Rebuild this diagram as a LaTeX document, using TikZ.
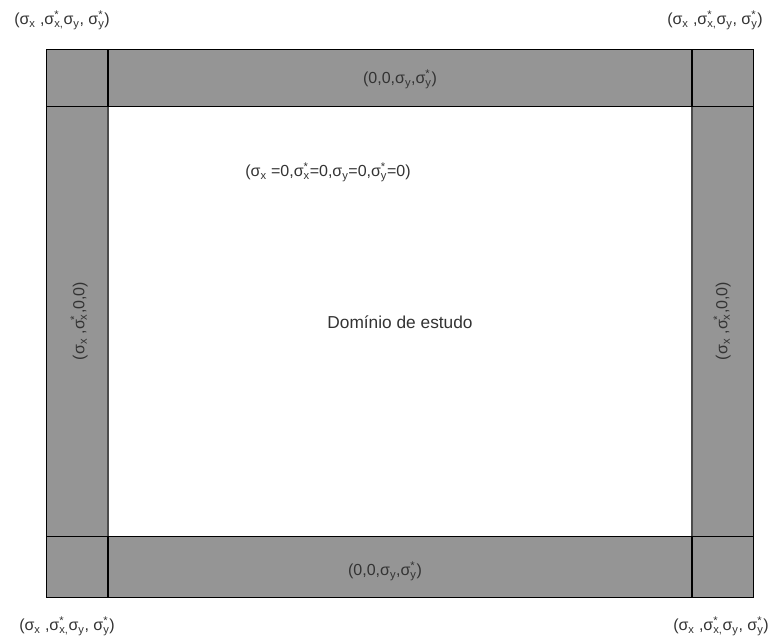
\documentclass[tikz,border=0pt]{standalone}
\usepackage{fontspec}
\setmainfont{Liberation Sans}
\newcommand\sbx[1]{\textsubscript{#1}}
\newcommand\sbsp[2]{\rlap{\textsuperscript{#2}}\textsubscript{#1}}
\definecolor{bandgray}{HTML}{959595}
\definecolor{txtgray}{HTML}{333333}
\begin{document}
\begin{tikzpicture}[x=1pt,y=-1pt,
  band/.style={fill=bandgray,draw=black,line width=1.6pt},
  inner/.style={draw=black!70,line width=1.2pt},
  lbl/.style={text=txtgray,font=\fontsize{16}{18}\selectfont,inner sep=0pt},
  big/.style={text=txtgray,font=\fontsize{17.3}{19}\selectfont,inner sep=0pt}]
\useasboundingbox (0,0) rectangle (771,639);
% bands
\fill[bandgray] (46.5,49.5) rectangle (753.5,106.5);
\fill[bandgray] (46.5,536.5) rectangle (753.5,597.5);
\fill[bandgray] (46.5,106.5) rectangle (108,536.5);
\fill[bandgray] (692,106.5) rectangle (753.5,536.5);
% inner edges
\draw[inner] (108,106.5) -- (108,536.5);
\draw[inner] (692,106.5) -- (692,536.5);
\draw[line width=1.6pt] (108,106.5) -- (692,106.5);
\draw[line width=1.6pt] (108,536.5) -- (692,536.5);
% corner separators
\draw[line width=1.6pt] (108,49.5) -- (108,106.5) (46.5,106.5) -- (108,106.5);
\draw[line width=1.6pt] (692,49.5) -- (692,106.5) (692,106.5) -- (753.5,106.5);
\draw[line width=1.6pt] (108,536.5) -- (108,597.5) (46.5,536.5) -- (108,536.5);
\draw[line width=1.6pt] (692,536.5) -- (692,597.5) (692,536.5) -- (753.5,536.5);
% outer frame
\draw[line width=1.6pt] (46.5,49.5) rectangle (753.5,597.5);
% labels
\node[lbl] (tl) at (62,20) {(σ\sbx{x} ,σ\sbsp{x,}{*}σ\sbx{y}, σ\sbsp{y}{*})};
\node[lbl] (tr) at (715,20) {(σ\sbx{x} ,σ\sbsp{x,}{*}σ\sbx{y}, σ\sbsp{y}{*})};
\node[lbl] (bl) at (67,626) {(σ\sbx{x} ,σ\sbsp{x,}{*}σ\sbx{y}, σ\sbsp{y}{*})};
\node[lbl] (br) at (721,626) {(σ\sbx{x} ,σ\sbsp{x,}{*}σ\sbx{y}, σ\sbsp{y}{*})};
\node[lbl] (top) at (400,79) {(0,0,σ\sbx{y},σ\sbsp{y}{*})};
\node[lbl] (bot) at (385,571) {(0,0,σ\sbx{y},σ\sbsp{y}{*})};
\node[lbl] (mid) at (328,172) {(σ\sbx{x} =0,σ\sbsp{x}{*}=0,σ\sbx{y}=0,σ\sbsp{y}{*}=0)};
\node[big] (dom) at (400,322) {Domínio de estudo};
\node[lbl,rotate=90] (lft) at (79,321) {(σ\sbx{x} ,σ\sbsp{x}{*},0,0)};
\node[lbl,rotate=90] (rgt) at (722,321) {(σ\sbx{x} ,σ\sbsp{x}{*},0,0)};
\end{tikzpicture}
\end{document}
